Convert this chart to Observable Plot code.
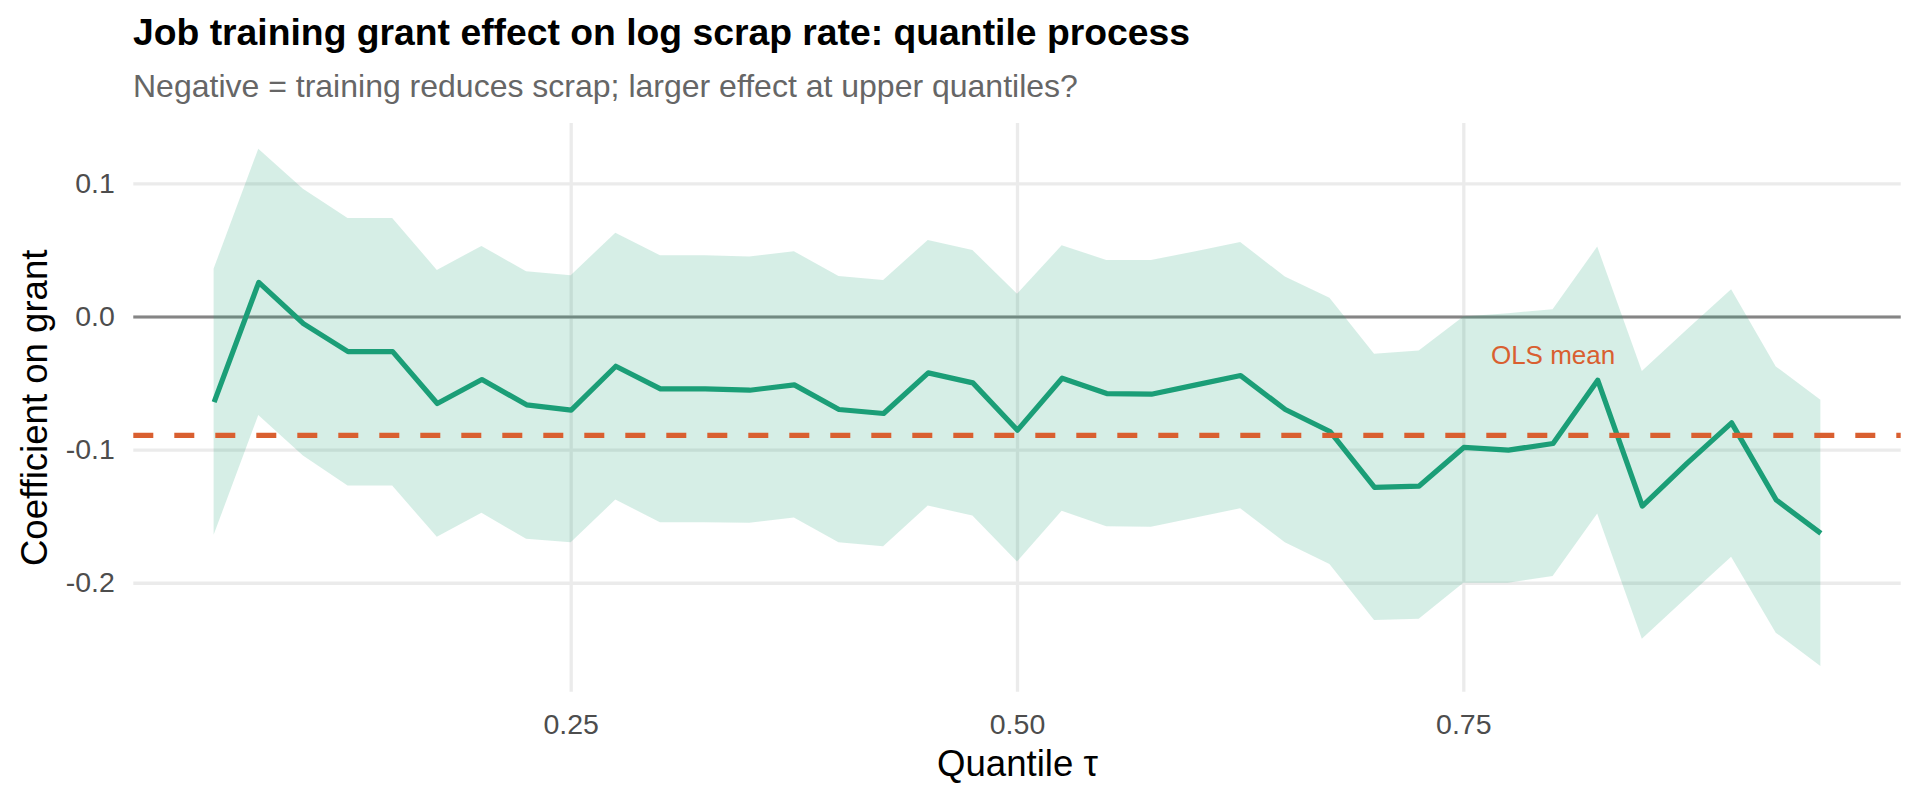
<!DOCTYPE html>
<html>
<head>
<meta charset="utf-8">
<script src="https://cdn.jsdelivr.net/npm/d3@7"></script>
<script src="https://cdn.jsdelivr.net/npm/@observablehq/plot@0.6"></script>
<style>
  html, body { margin: 0; padding: 0; background: #ffffff; overflow: hidden; }
  #wrap { position: relative; width: 1920px; height: 806px; font-family: "Liberation Sans", Arial, Helvetica, sans-serif; }
  #header { position: relative; height: 110px; }
  #title { position: absolute; left: 133px; top: 14.2px; font-weight: bold; font-size: 37.3px; line-height: 1; color: #000000; white-space: nowrap; }
  #subtitle { position: absolute; left: 133px; top: 69.6px; font-size: 32px; line-height: 1; color: #666666; white-space: nowrap; }
  #chart svg { display: block; }
</style>
</head>
<body>
<div id="wrap">
  <div id="header"><div id="title"></div><div id="subtitle"></div></div>
  <div id="chart"></div>
</div>
<script>
// ---- Text ----
const titleText = "Job training grant effect on log scrap rate: quantile process";
const subtitleText = "Negative = training reduces scrap; larger effect at upper quantiles?";
const xTitle = "Quantile \u03C4";
const yTitle = "Coefficient on grant";

// ---- Data ----
const tau = [0.050, 0.075, 0.100, 0.125, 0.150, 0.175, 0.200, 0.225, 0.250, 0.275,
             0.300, 0.325, 0.350, 0.375, 0.400, 0.425, 0.450, 0.475, 0.500, 0.525,
             0.550, 0.575, 0.600, 0.625, 0.650, 0.675, 0.700, 0.725, 0.750, 0.775,
             0.800, 0.825, 0.850, 0.875, 0.900, 0.925, 0.950];
const estimate = [-0.064, 0.026, -0.005, -0.026, -0.026, -0.065, -0.047, -0.066, -0.070, -0.037,
                  -0.054, -0.054, -0.055, -0.051, -0.0695, -0.0725, -0.042, -0.0495, -0.085, -0.046,
                  -0.0575, -0.058, -0.051, -0.044, -0.0695, -0.086, -0.128, -0.127, -0.098, -0.100,
                  -0.095, -0.0475, -0.142, -0.110, -0.0795, -0.1375, -0.1625];
const upper = [0.036, 0.126, 0.096, 0.074, 0.074, 0.035, 0.053, 0.034, 0.031, 0.063,
               0.046, 0.046, 0.045, 0.049, 0.0305, 0.0275, 0.0575, 0.050, 0.017, 0.0535,
               0.0425, 0.0425, 0.049, 0.056, 0.030, 0.014, -0.028, -0.0255, 0.000, 0.0025,
               0.0055, 0.0525, -0.041, -0.010, 0.0205, -0.0375, -0.0625];
const lower = [-0.164, -0.074, -0.1045, -0.127, -0.127, -0.1655, -0.1475, -0.167, -0.1695, -0.1375,
               -0.1545, -0.1545, -0.155, -0.151, -0.1695, -0.1725, -0.142, -0.1495, -0.184, -0.146,
               -0.1575, -0.158, -0.151, -0.144, -0.1695, -0.186, -0.228, -0.227, -0.200, -0.200,
               -0.195, -0.148, -0.242, -0.211, -0.1805, -0.2375, -0.2625];
const zeroLine = [0];
const olsMean = [-0.089];
const olsLabel = [{tau: 0.80, y: -0.029, text: "OLS mean"}];

const xTicks = [0.25, 0.50, 0.75];
const xTickLabels = ["0.25", "0.50", "0.75"];
const yTicks = [-0.2, -0.1, 0.0, 0.1];
const yTickLabels = ["-0.2", "-0.1", "0.0", "0.1"];

// ---- Colours ----
const green = "#1B9E77";
const orange = "#D95F30";

// ---- Build ----
document.getElementById("title").textContent = titleText;
document.getElementById("subtitle").textContent = subtitleText;

const rows = tau.map((t, i) => ({tau: t, est: estimate[i], lo: lower[i], hi: upper[i]}));

function expand(ext, f) { const d = (ext[1] - ext[0]) * f; return [ext[0] - d, ext[1] + d]; }
const xDomain = expand(d3.extent(tau), 0.05);
const yDomain = expand([d3.min(lower), d3.max(upper)], 0.05);

const fontFamily = '"Liberation Sans", Arial, Helvetica, sans-serif';

const chart = Plot.plot({
  width: 1920,
  height: 696,
  marginTop: 12.9,
  marginBottom: 114.2,
  marginLeft: 133.3,
  marginRight: 19.3,
  style: {fontFamily, fontSize: "28.5px", color: "#4D4D4D", background: "#ffffff", overflow: "visible"},
  x: {domain: xDomain, ticks: xTicks, tickFormat: d => xTickLabels[xTicks.indexOf(d)], tickSize: 0, tickPadding: 21, label: null},
  y: {domain: yDomain, ticks: yTicks, tickFormat: d => yTickLabels[yTicks.indexOf(d)], tickSize: 0, tickPadding: 19, label: null},
  marks: [
    Plot.ruleX(xTicks, {stroke: "#EBEBEB", strokeWidth: 3.3}),
    Plot.ruleY(yTicks, {stroke: "#EBEBEB", strokeWidth: 3.3}),
    Plot.ruleY(zeroLine, {stroke: "#858585", strokeWidth: 2.8}),
    Plot.areaY(rows, {x: "tau", y1: "lo", y2: "hi", fill: green, fillOpacity: 0.18}),
    Plot.lineY(rows, {x: "tau", y: "est", stroke: green, strokeWidth: 5.2, strokeLinecap: "butt", strokeLinejoin: "round"}),
    Plot.ruleY(olsMean, {stroke: orange, strokeWidth: 5.2, strokeDasharray: "20,21"}),
    Plot.text(olsLabel, {x: "tau", y: "y", text: "text", fill: orange, fontSize: 26, textAnchor: "middle", lineAnchor: "middle"}),
    Plot.text([yTitle], {text: d => d, frameAnchor: "left", rotate: -90, dx: -86.8, textAnchor: "middle", lineAnchor: "bottom", fill: "#000000", fontSize: 36.6}),
    Plot.text([xTitle], {text: d => d, frameAnchor: "bottom", dy: 84, textAnchor: "middle", lineAnchor: "bottom", fill: "#000000", fontSize: 36.6})
  ]
});
document.getElementById("chart").appendChild(chart);
</script>
</body>
</html>
